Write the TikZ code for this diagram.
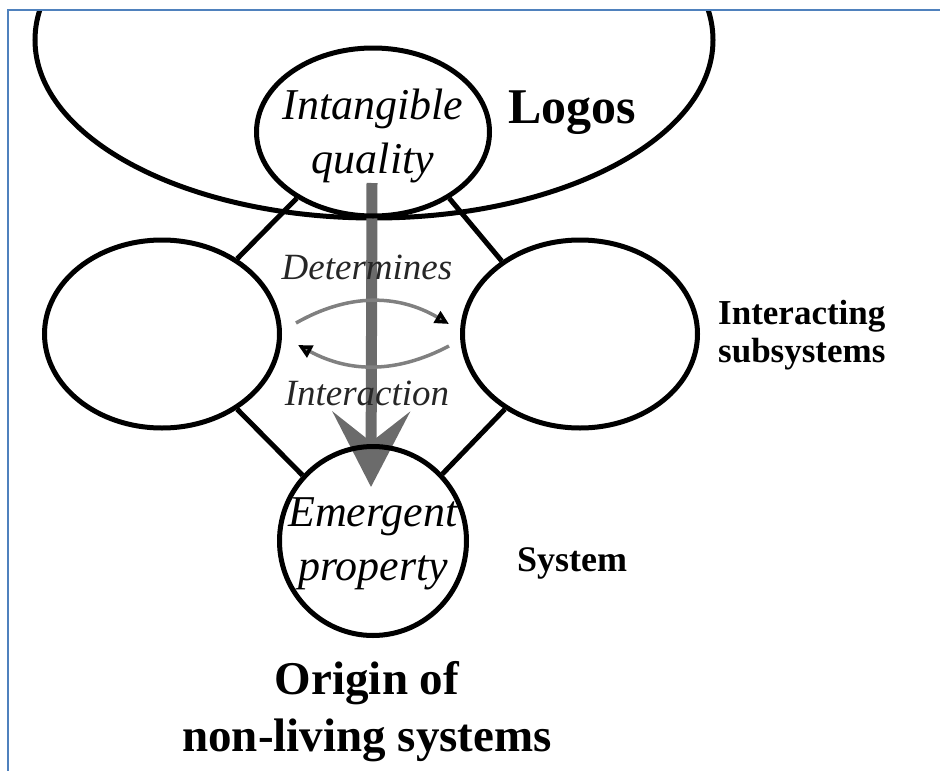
\documentclass[tikz,border=0pt]{standalone}
\usepackage{fontspec}
\setmainfont{Liberation Serif}
\usetikzlibrary{shapes.geometric,arrows.meta}
\definecolor{framblue}{RGB}{79,129,189}

\begin{document}
\begin{tikzpicture}[x=1pt,y=1pt,node distance=418pt,
  sub node/.style={ellipse,draw,line width=5pt,inner sep=0pt,minimum width=235pt,minimum height=188pt},
  ital/.style={align=center,font=\fontsize{44}{54}\selectfont\itshape},
  arc lbl/.style={font=\fontsize{37}{44}\selectfont\itshape,text=black!85,inner sep=0pt},
  bold lbl/.style={font=\fontsize{35}{38}\selectfont\bfseries,inner sep=0pt},
  hex line/.style={line width=5pt},
  inter arrow/.style={color=black!50,line width=3.5pt,-{Triangle[length=14pt,width=13pt,color=black]}},
  big arrow/.style={draw=black!58,line width=11pt,-{Stealth[length=75pt,width=77pt,inset=30pt]}}]

 \useasboundingbox (0,0) rectangle (940,-771);

 % Logos
 \begin{scope}
  \clip (8,-10) rectangle (940,-771);
  \node[ellipse,draw,line width=5pt,minimum width=678pt,minimum height=356pt] (logosell) at (374,-40) {};
 \end{scope}
 \draw[framblue,line width=2.2pt] (8,-771) -- (8,-10) -- (940,-10);

 % determines
 \coordinate (qtop) at (372,-183);
 \coordinate (qtip) at (371,-487);
 \draw[big arrow] (qtop) -- (qtip);

 \node[sub node,minimum width=233pt,minimum height=168pt] (intang) at (373,-132) {};
 \node[sub node] (leftsub) at (162,-334) {};
 \node[sub node] (rightsub) [right of=leftsub] {};
 \node[sub node,minimum width=187pt,minimum height=189pt,node distance=409pt] (emerg) [below of=intang] {};

 \node[ital] (intangtxt) at ([yshift=-4pt]intang.center) {Intangible\\quality};
 \node[ital] (emergtxt) at ([yshift=-3pt]emerg.center) {Emergent\\property};
 \node[font=\fontsize{50}{60}\selectfont\bfseries,anchor=base,inner sep=0pt] (logos) at (572,-123) {Logos};
 \node[arc lbl,anchor=base] (determ) at (367,-279) {Determines};
 \node[arc lbl,anchor=base] (interact) at (367,-405) {Interaction};
 \node[bold lbl,anchor=west,align=left] (intersub) at (718,-335) {Interacting\\subsystems};
 \node[bold lbl,font=\fontsize{36}{40}\selectfont\bfseries,anchor=base west] (system) at (517,-571) {System};
 \node[bold lbl,font=\fontsize{47}{57}\selectfont\bfseries,align=center] (origin) at (367,-712) {Origin of\\non-living systems};

 \path[hex line]
    (intang.221)   edge (leftsub.45)
    (intang.-41)   edge (rightsub.137)
    (leftsub.-45)  edge (emerg.137)
    (rightsub.225) edge (emerg.44);

 \path[inter arrow]
    ([xshift=14pt,yshift=11pt]leftsub.east)    edge [bend left=30] ([xshift=-11pt,yshift=10pt]rightsub.west)
    ([xshift=-11pt,yshift=-12pt]rightsub.west) edge [bend left=28] ([xshift=16pt,yshift=-11pt]leftsub.east);

\end{tikzpicture}
\end{document}
